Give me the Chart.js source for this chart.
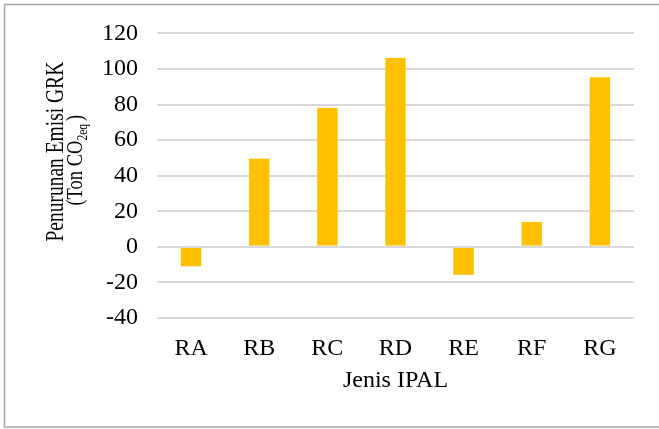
<!DOCTYPE html>
<html>
<head>
<meta charset="utf-8">
<script src="https://cdn.jsdelivr.net/npm/chart.js@4"></script>
<style>
  html, body { margin: 0; padding: 0; background: #fff; }
  #wrap { width: 659px; height: 429px; }
</style>
</head>
<body>
<div id="wrap"><canvas id="chart" width="659" height="429"></canvas></div>
<script>
// IPAL types and the GHG emission reduction for each (Ton CO2eq)
const categories = ['RA', 'RB', 'RC', 'RD', 'RE', 'RF', 'RG'];
const reductions = [-11.2, 49.8, 78.3, 106.4, -15.9, 14.3, 95.5];
const yTicks = [-40, -20, 0, 20, 40, 60, 80, 100, 120];
const xTitle = 'Jenis IPAL';
const yTitleLine1 = 'Penurunan Emisi GRK';
const yTitleLine2 = ['(Ton CO', '2eq', ')'];

const FONT = "'Liberation Serif', 'Times New Roman', serif";

// White page with the grey frame around the figure
const framePlugin = {
  id: 'frame',
  beforeDraw(chart) {
    const ctx = chart.ctx;
    ctx.save();
    ctx.fillStyle = '#ffffff';
    ctx.fillRect(0, 0, chart.width, chart.height);
    ctx.strokeStyle = '#a6a6a6';
    ctx.lineWidth = 1.5;
    ctx.strokeRect(4.5, 4.5, chart.width + 10, 422.5);
    ctx.restore();
  }
};

// Rotated y-axis title (tall glyphs) with subscript "2eq"
const yTitlePlugin = {
  id: 'yTitle',
  afterDraw(chart) {
    const ctx = chart.ctx;
    const midY = (chart.chartArea.top + chart.chartArea.bottom) / 2;
    const stretch = 1.3;
    ctx.save();
    ctx.fillStyle = '#000';
    ctx.textBaseline = 'alphabetic';
    // first line
    ctx.save();
    ctx.translate(63, midY - 24);
    ctx.rotate(-Math.PI / 2);
    ctx.scale(1, stretch);
    ctx.font = '19.5px ' + FONT;
    ctx.textAlign = 'center';
    ctx.fillText(yTitleLine1, 0, 0);
    ctx.restore();
    // second line with subscript
    ctx.save();
    ctx.translate(82, midY - 15.5);
    ctx.rotate(-Math.PI / 2);
    ctx.scale(1, stretch);
    ctx.textAlign = 'left';
    const mainFont = '18.5px ' + FONT;
    const subFont = '11.5px ' + FONT;
    const gap = 3;
    ctx.font = mainFont;
    const w1 = ctx.measureText(yTitleLine2[0]).width;
    const w3 = ctx.measureText(yTitleLine2[2]).width;
    ctx.font = subFont;
    const w2 = ctx.measureText(yTitleLine2[1]).width;
    let x = -(w1 + w2 + gap + w3) / 2;
    ctx.font = mainFont;
    ctx.fillText(yTitleLine2[0], x, 0);
    x += w1;
    ctx.font = subFont;
    ctx.fillText(yTitleLine2[1], x, 4);
    x += w2 + gap;
    ctx.font = mainFont;
    ctx.fillText(yTitleLine2[2], x, 0);
    ctx.restore();
    ctx.restore();
  }
};

new Chart(document.getElementById('chart'), {
  type: 'bar',
  data: {
    labels: categories,
    datasets: [{
      data: reductions,
      backgroundColor: '#FFC000',
      borderColor: '#FFE080',
      borderWidth: 0.5,
      categoryPercentage: 1,
      barPercentage: 0.312
    }]
  },
  options: {
    responsive: false,
    animation: false,
    devicePixelRatio: 1,
    layout: { padding: { left: 0, right: 25, top: 33, bottom: 0 } },
    plugins: {
      legend: { display: false },
      tooltip: { enabled: false }
    },
    scales: {
      x: {
        grid: { display: false, drawTicks: false },
        border: { display: false },
        ticks: {
          color: '#000',
          font: { family: FONT, size: 24 },
          padding: 16
        },
        title: {
          display: true,
          text: xTitle,
          color: '#000',
          font: { family: FONT, size: 24 },
          padding: { top: 0, bottom: 34 }
        },
        afterFit(scale) { scale.height = 111; }
      },
      y: {
        min: -40,
        max: 120,
        afterBuildTicks(scale) { scale.ticks = yTicks.map(v => ({ value: v })); },
        grid: { color: '#d9d9d9', lineWidth: 2, drawTicks: false },
        border: { display: false },
        ticks: {
          color: '#000',
          font: { family: FONT, size: 24 },
          padding: 19
        },
        afterFit(scale) { scale.width = 157; }
      }
    }
  },
  plugins: [framePlugin, yTitlePlugin]
});
</script>
</body>
</html>
